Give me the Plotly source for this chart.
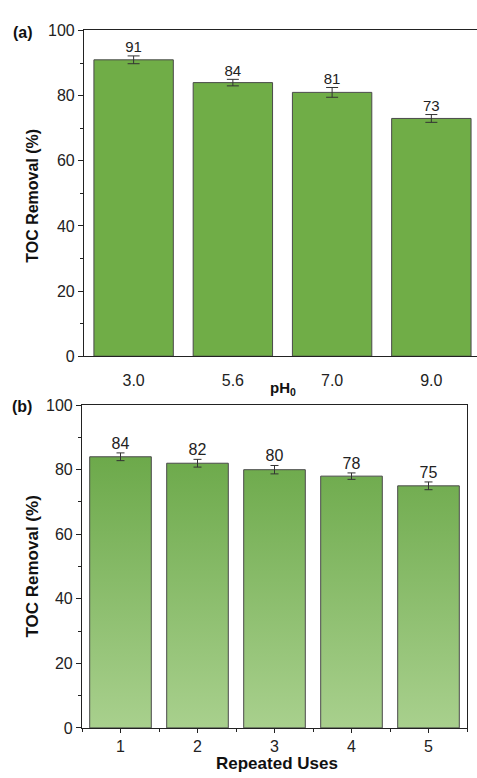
import plotly.graph_objects as go

# ---- data ----
ph_labels = ["3.0", "5.6", "7.0", "9.0"]
ph_values = [91, 84, 81, 73]
ph_errors = [1.2, 1.0, 1.5, 1.2]

uses_labels = ["1", "2", "3", "4", "5"]
uses_values = [84, 82, 80, 78, 75]
uses_errors = [1.2, 1.2, 1.3, 1.0, 1.2]

y_ticks = [0, 20, 40, 60, 80, 100]

FONT = "Liberation Sans, Arial, sans-serif"
BAR_W = 0.8
EDGE = "#4a4a4a"

fig = go.Figure()

# ---- panel (a) ----
xa = list(range(len(ph_values)))
fig.add_trace(go.Bar(
    x=xa, y=ph_values, width=BAR_W,
    marker=dict(color="#70AD47", line=dict(color=EDGE, width=1)),
    error_y=dict(type="data", array=ph_errors, color="#333333", thickness=1, width=6),
    xaxis="x", yaxis="y", showlegend=False,
))
fig.add_trace(go.Scatter(
    x=xa, y=[v + e for v, e in zip(ph_values, ph_errors)],
    mode="text", text=[str(v) for v in ph_values], textposition="top center",
    textfont=dict(family=FONT, size=15, color="#222222"),
    xaxis="x", yaxis="y", showlegend=False, cliponaxis=False,
))

# ---- panel (b) : gradient bars ----
xb = list(range(1, len(uses_values) + 1))
for xi, v in zip(xb, uses_values):
    fig.add_trace(go.Scatter(
        x=[xi - BAR_W / 2, xi - BAR_W / 2, xi + BAR_W / 2, xi + BAR_W / 2, xi - BAR_W / 2],
        y=[0, v, v, 0, 0],
        mode="lines", fill="toself",
        fillgradient=dict(type="vertical", start=0, stop=85,
                          colorscale=[[0, "#AAD18F"], [1, "#6CA94A"]]),
        line=dict(color=EDGE, width=1),
        xaxis="x2", yaxis="y2", showlegend=False, hoverinfo="skip",
    ))
fig.add_trace(go.Scatter(
    x=xb, y=uses_values, mode="markers",
    marker=dict(size=1, color="rgba(0,0,0,0)"),
    error_y=dict(type="data", array=uses_errors, color="#333333", thickness=1, width=4),
    xaxis="x2", yaxis="y2", showlegend=False,
))
fig.add_trace(go.Scatter(
    x=xb, y=[v + e for v, e in zip(uses_values, uses_errors)],
    mode="text", text=[str(v) for v in uses_values], textposition="top center",
    textfont=dict(family=FONT, size=16, color="#222222"),
    xaxis="x2", yaxis="y2", showlegend=False, cliponaxis=False,
))

H = 778.0
W = 477.0

axis_common = dict(showgrid=False, zeroline=False, linecolor="#222222", linewidth=1.2,
                   tickfont=dict(family=FONT, size=16, color="#222222"))


def ann(text, x, y, size, angle=0):
    return dict(text=text, x=x / W, y=1 - y / H, xref="paper", yref="paper",
                xanchor="center", yanchor="middle", textangle=angle,
                showarrow=False, font=dict(family=FONT, size=size, color="#111111"))


fig.update_layout(
    width=477, height=778,
    margin=dict(l=0, r=0, t=0, b=0),
    paper_bgcolor="white", plot_bgcolor="white",
    font=dict(family=FONT, color="#222222"),
    xaxis=dict(domain=[84 / W, 1.0], anchor="y", range=[-0.5, 3.46],
               tickvals=xa, ticktext=ph_labels, ticks="", showline=True, mirror=True,
               ticklabelstandoff=9, **axis_common),
    yaxis=dict(domain=[1 - 356 / H, 1 - 23 / H], anchor="x", range=[0, 100],
               tickvals=y_ticks, ticks="outside", ticklen=5, tickcolor="#222222",
               minor=dict(ticks="outside", ticklen=3, dtick=10, tickcolor="#222222"),
               showline=True, mirror=False, **axis_common),
    xaxis2=dict(domain=[82 / W, 467 / W], anchor="y2", range=[0.5, 5.5],
                tickvals=xb, ticktext=uses_labels, ticks="outside", ticklen=4,
                tickcolor="#222222",
                minor=dict(ticks="outside", ticklen=3, tick0=0.5, dtick=1, tickcolor="#222222"),
                showline=True, mirror=True, **axis_common),
    yaxis2=dict(domain=[1 - 736 / H, 1 - 406 / H], anchor="x2", range=[0, 100],
                tickvals=y_ticks, ticks="outside", ticklen=5, tickcolor="#222222",
                minor=dict(ticks="outside", ticklen=3, dtick=10, tickcolor="#222222"),
                showline=True, mirror=True, **axis_common),
    annotations=[
        ann("<b>(a)</b>", 23, 25, 16),
        ann("<b>(b)</b>", 22, 407, 16),
        ann("<b>TOC Removal (%)</b>", 33, 192, 16, -90),
        ann("<b>TOC Removal (%)</b>", 33, 571, 17, -90),
        ann("<b>pH<sub>0</sub></b>", 283, 389, 15),
        ann("<b>Repeated Uses</b>", 277, 772, 17),
    ],
)

fig.write_html("out.html", config={"displayModeBar": False},
               post_script="document.body.style.margin='0px';document.body.style.overflow='hidden';")
